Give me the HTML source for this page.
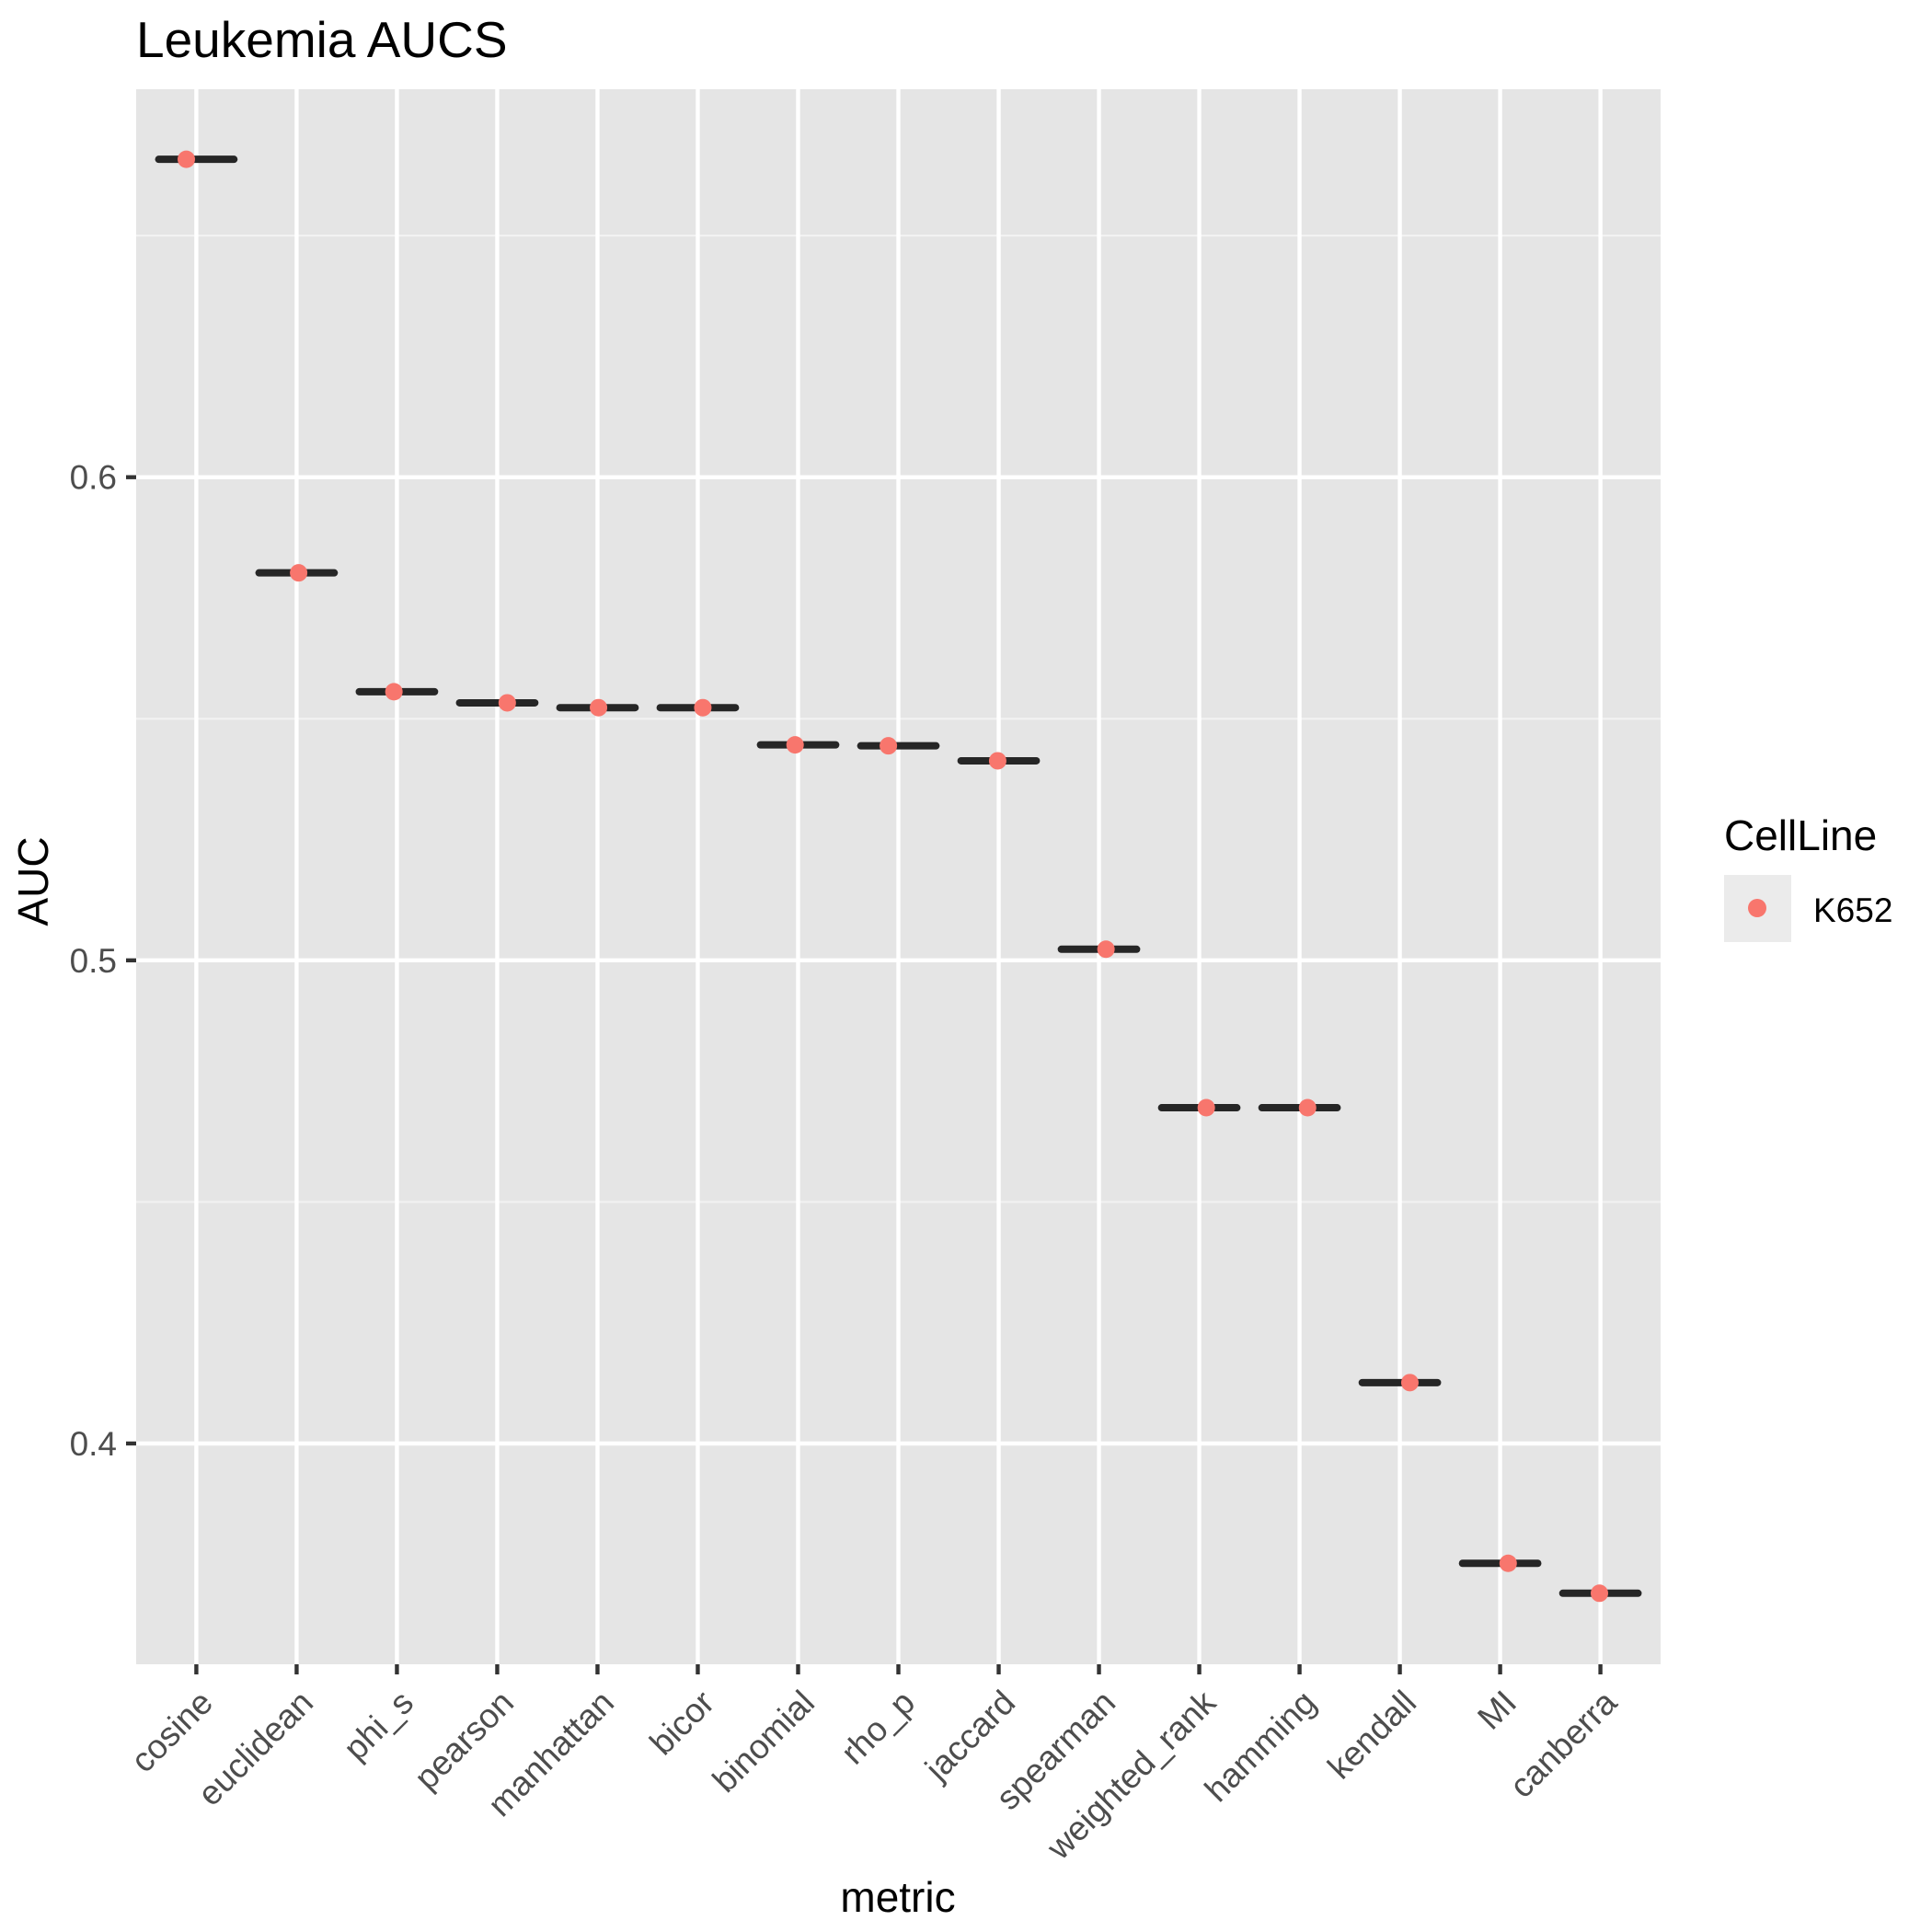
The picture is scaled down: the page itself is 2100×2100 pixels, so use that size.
<!DOCTYPE html>
<html><head><meta charset="utf-8"><style>
html,body{margin:0;padding:0;background:#fff}
svg{display:block;font-family:"Liberation Sans",Arial,sans-serif}
</style></head><body>
<svg id="chart" width="2100" height="2100" viewBox="0 0 2100 2100" xmlns="http://www.w3.org/2000/svg">
<text x="148" y="62" font-size="55" fill="#000">Leukemia AUCS</text>
<rect x="148" y="97" width="1657" height="1712" fill="#e5e5e5"/>
<g id="grid"></g><g id="marks"></g><g id="axes"></g>
<text transform="translate(52,958) rotate(-90)" text-anchor="middle" font-size="46" fill="#000">AUC</text>
<text x="976" y="2078" text-anchor="middle" font-size="46" fill="#000">metric</text>
<g>
<text x="1874" y="924" font-size="46" fill="#000">CellLine</text>
<rect x="1874" y="951" width="73" height="73" fill="#ebebeb"/>
<circle cx="1910" cy="987" r="10" fill="#f8766d"/>
<text x="1971" y="1002" font-size="37" fill="#000">K652</text>
</g>
</svg>
<script>
const categories=["cosine","euclidean","phi_s","pearson","manhattan","bicor","binomial","rho_p","jaccard","spearman","weighted_rank","hamming","kendall","MI","canberra"];
const aucValues=[0.6658,0.5802,0.5556,0.5533,0.5523,0.5523,0.5446,0.5444,0.5413,0.5023,0.4695,0.4695,0.4126,0.3752,0.3690];
const jitter=[-0.1,0.02,-0.03,0.1,0.01,0.05,-0.03,-0.1,-0.01,0.07,0.07,0.08,0.1,0.08,-0.01];
const yMajor=[0.4,0.5,0.6];
const yMinor=[0.45,0.55,0.65];
const yTickLabels=["0.4","0.5","0.6"];
const NS="http://www.w3.org/2000/svg";
const PL=148,PR=1805,PT=97,PB=1809;
const yMin=0.3543,yMax=0.6803;
const band=(PR-PL)/(categories.length+0.2);
function xs(i){return PL+band*(0.6+i);}
function ys(v){return PB-(v-yMin)/(yMax-yMin)*(PB-PT);}
function mk(tag,attrs,parent){const e=document.createElementNS(NS,tag);for(const k in attrs)e.setAttribute(k,attrs[k]);parent.appendChild(e);return e;}
const grid=document.getElementById('grid'),marks=document.getElementById('marks'),axes=document.getElementById('axes');
yMinor.forEach(v=>{const l=mk('line',{x1:PL,x2:PR,y1:ys(v),y2:ys(v),stroke:'#f2f2f2','stroke-width':2.2},grid);

});
yMajor.forEach((v,i)=>{const l=mk('line',{x1:PL,x2:PR,y1:ys(v),y2:ys(v),stroke:'#fff','stroke-width':4.4},grid);


const t=mk('line',{x1:PL-11,x2:PL,y1:ys(v),y2:ys(v),stroke:'#333','stroke-width':4.4},axes);


const tx=mk('text',{x:PL-21,y:ys(v)+13,'text-anchor':'end','font-size':37,fill:'#4d4d4d'},axes);tx.textContent=yTickLabels[i];

});
categories.forEach((c,i)=>{const x=xs(i);
const g=mk('line',{x1:x,x2:x,y1:PT,y2:PB,stroke:'#fff','stroke-width':4.4},grid);


const t=mk('line',{x1:x,x2:x,y1:PB,y2:PB+11,stroke:'#333','stroke-width':4.4},axes);


const tx=mk('text',{transform:`translate(${x+20},${PB+44}) rotate(-45)`,'text-anchor':'end','font-size':37,fill:'#4d4d4d'},axes);tx.textContent=c;


const y=ys(aucValues[i]);
const b=mk('line',{x1:x-band*0.375,x2:x+band*0.375,y1:y,y2:y,stroke:'#262626','stroke-width':8,'stroke-linecap':'round'},marks);


const p=mk('circle',{cx:x+jitter[i]*band,cy:y,r:9.5,fill:'#f8766d'},marks);

});
</script>
</body></html>
